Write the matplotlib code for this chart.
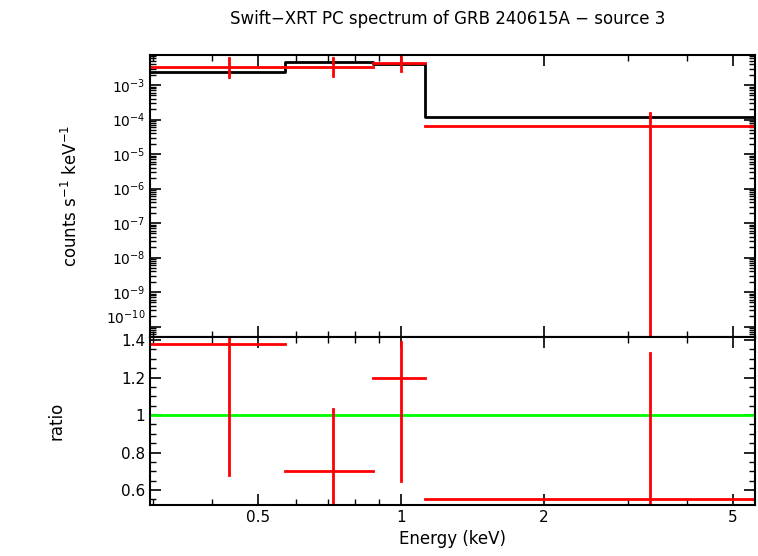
import matplotlib
matplotlib.use("Agg")
import matplotlib.pyplot as plt
from matplotlib.ticker import FixedLocator, NullFormatter, LogLocator

# bins (keV)
e_lo = [0.296, 0.57, 0.873, 1.12]
e_hi = [0.57, 0.873, 1.12, 5.56]
e_mid = [0.435, 0.72, 1.0, 3.34]

rate = [3.3e-3, 3.3e-3, 4.4e-3, 6.3e-5]
rate_up = [6.0e-3, 6.0e-3, 6.5e-3, 1.6e-4]
rate_dn = [1.7e-3, 1.8e-3, 2.5e-3, 1e-12]
model = [2.4e-3, 4.8e-3, 4.0e-3, 1.2e-4]

ratio = [1.38, 0.70, 1.20, 0.55]
ratio_up = [1.6, 1.03, 1.39, 1.33]
ratio_dn = [0.68, 0.4, 0.65, 0.4]

fig = plt.figure(figsize=(7.58, 5.56), dpi=100)
ax1 = fig.add_axes([0.198, 0.394, 0.798, 0.507])
ax2 = fig.add_axes([0.198, 0.0917, 0.798, 0.302], sharex=ax1)

RED = "#ff0000"
# model step
xs, ys = [], []
for lo, hi, m in zip(e_lo, e_hi, model):
    xs += [lo, hi]
    ys += [m, m]
ax1.plot(xs, ys, color="black", lw=2)
for lo, hi, c, r, u, d in zip(e_lo, e_hi, e_mid, rate, rate_up, rate_dn):
    ax1.plot([lo, hi], [r, r], color=RED, lw=2)
    ax1.plot([c, c], [d, u], color=RED, lw=2)

ax1.set_xscale("log")
ax1.set_yscale("log")
ax1.set_xlim(0.296, 5.56)
ax1.set_ylim(10**-10.3, 10**-2.13)
ax1.yaxis.set_major_locator(FixedLocator([10.0**k for k in range(-10, -2)]))
ax1.yaxis.set_minor_locator(LogLocator(base=10, subs=range(2, 10), numticks=20))
ax1.set_ylabel("counts s$^{-1}$ keV$^{-1}$", fontsize=12, labelpad=18)
plt.setp(ax1.get_xticklabels(), visible=False)

ax2.axhline(1.0, color="#00ff00", lw=2)
for lo, hi, c, r, u, d in zip(e_lo, e_hi, e_mid, ratio, ratio_up, ratio_dn):
    ax2.plot([lo, hi], [r, r], color=RED, lw=2)
    ax2.plot([c, c], [d, u], color=RED, lw=2)
ax2.set_ylim(0.52, 1.416)
ax2.set_yticks([0.6, 0.8, 1.0, 1.2, 1.4])
ax2.set_yticklabels(["0.6", "0.8", "1", "1.2", "1.4"])
ax2.yaxis.set_minor_locator(FixedLocator([0.55 + 0.05 * i for i in range(18)]))
ax2.set_xticks([0.5, 1, 2, 5])
ax2.set_xticklabels(["0.5", "1", "2", "5"])
ax2.xaxis.set_minor_formatter(NullFormatter())
ax2.set_xlabel("Energy (keV)", fontsize=12)
ax2.set_ylabel("ratio", fontsize=12, labelpad=40)

for ax in (ax1, ax2):
    for s in ax.spines.values():
        s.set_linewidth(1.5)
    ax.tick_params(which="both", direction="in", top=True, right=True, labelsize=11)
    ax.tick_params(which="major", length=8, width=1.2)
    ax.tick_params(which="minor", length=4, width=1)
ax1.tick_params(axis="y", labelsize=10)
# nudge the lowest log label up so it clears the ratio panel's 1.4
ax1.get_yticklabels()[0].set_va("bottom")

fig.text(0.59, 0.965, "Swift\u2212XRT PC spectrum of GRB 240615A \u2212 source 3",
         ha="center", va="center", fontsize=12)
fig.savefig("out.png", dpi=100, facecolor="white")
